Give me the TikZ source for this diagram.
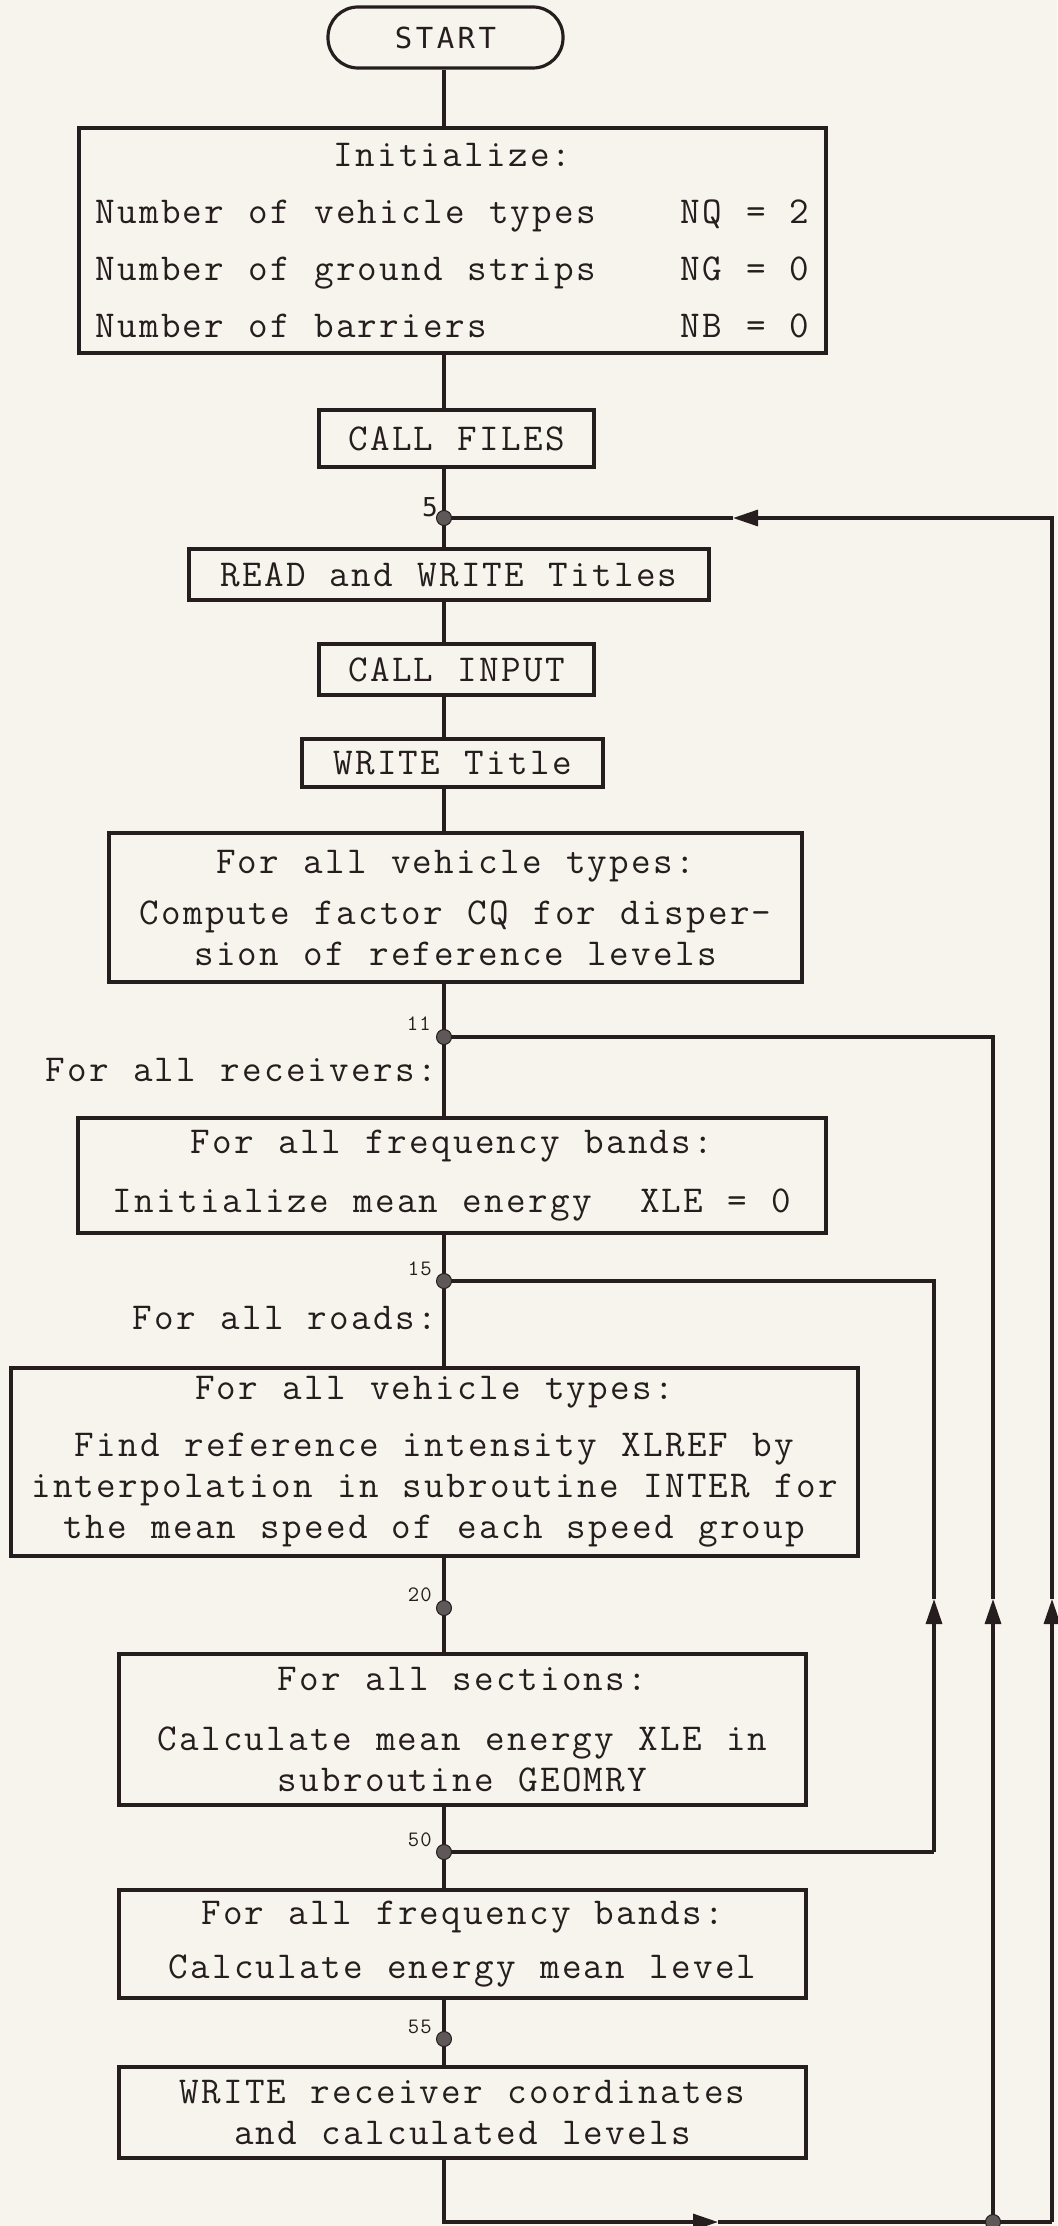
\documentclass[tikz,border=0pt]{standalone}
\usepackage{fontspec}
\newfontfamily\tw[LetterSpace=6,WordSpace=1.11]{Latin Modern Mono}
\newfontfamily\startfont[LetterSpace=12]{DejaVu Sans Mono}
\usetikzlibrary{arrows.meta}
\pgfdeclarelayer{paperlayer}
\pgfdeclarelayer{wires}
\pgfsetlayers{paperlayer,wires,main}
\definecolor{paper}{RGB}{247,243,237}
\definecolor{ink}{RGB}{38,30,30}
\definecolor{dotc}{RGB}{95,88,88}
\tikzset{
  box/.style={draw=ink, line width=3.2pt, rectangle, inner sep=0pt, align=center,
    text=ink, font=\tw\fontsize{38}{41}\selectfont},
  dotnode/.style={circle, fill=dotc, draw=ink, line width=1pt, inner sep=0pt, minimum size=15pt},
  lbl/.style={font=\tw\fontsize{22}{22}\selectfont\bfseries, text=ink, inner sep=0pt, anchor=south east},
  side/.style={font=\tw\fontsize{38}{41}\selectfont, text=ink, inner sep=0pt, anchor=east},
  wire/.style={draw=ink, line width=3.2pt},
  tri/.style={-{Triangle[length=25pt,width=16pt]}}
}
\begin{document}
\begin{tikzpicture}[x=1pt,y=-1pt]
\useasboundingbox (0,0) rectangle (1057,2226);
\begin{pgfonlayer}{paperlayer}
\fill[paper] (0,0) rectangle (1057,2226);
\end{pgfonlayer}

% boxes
\node[box, rounded corners=30pt, minimum width=235pt, minimum height=61pt,
  font=\startfont\fontsize{29}{29}\selectfont] (start) at (445.5,37.5) {START};
\node[box, minimum width=747pt, minimum height=225pt] (init) at (452.5,240.5)
  {Initialize:\\[16pt]
   \makebox[714pt]{Number of vehicle types\hfill NQ = 2}\\[16pt]
   \makebox[714pt]{Number of ground strips\hfill NG = 0}\\[16pt]
   \makebox[714pt]{Number of barriers\hfill NB = 0}};
\node[box, minimum width=275pt, minimum height=57pt] (files) at (456.5,438.5) {CALL FILES};
\node[box, minimum width=520pt, minimum height=51pt] (rw) at (449,574.5) {READ and WRITE Titles};
\node[box, minimum width=275pt, minimum height=51pt] (input) at (456.5,669.5) {CALL INPUT};
\node[box, minimum width=301pt, minimum height=48pt] (wtitle) at (452.5,763) {WRITE Title};
\node[box, minimum width=693pt, minimum height=149pt] (vt1) at (455.5,907.5)
  {For all vehicle types:\\[10pt]
   Compute factor CQ for disper-\\
   sion of reference levels};
\node[box, minimum width=748pt, minimum height=115pt] (fb1) at (452,1175.5)
  {For all frequency bands:\\[18pt]
   Initialize mean energy\ \ XLE = 0};
\node[box, minimum width=847pt, minimum height=188pt] (vt2) at (434.5,1462)
  {For all vehicle types:\\[16pt]
   Find reference intensity XLREF by\\
   interpolation in subroutine INTER for\\
   the mean speed of each speed group};
\node[box, minimum width=687pt, minimum height=151pt] (sec) at (462.5,1729.5)
  {For all sections:\\[19pt]
   Calculate mean energy XLE in\\
   subroutine GEOMRY};
\node[box, minimum width=687pt, minimum height=108pt] (fb2) at (462.5,1944)
  {For all frequency bands:\\[13pt]
   Calculate energy mean level};
\node[box, minimum width=687pt, minimum height=91pt] (wr) at (462.5,2112.5)
  {WRITE receiver coordinates\\
   and calculated levels};

% junction dots
\node[dotnode] (d5) at (444,518) {};
\node[dotnode] (d11) at (444,1037) {};
\node[dotnode] (d15) at (444,1281) {};
\node[dotnode] (d20) at (444,1608) {};
\node[dotnode] (d50) at (444,1852) {};
\node[dotnode] (d55) at (444,2039) {};
\node[dotnode] (db) at (993,2222) {};

% junction labels
\node[lbl, font=\startfont\fontsize{26}{26}\selectfont] (l5) at (438,517) {5};
\node[lbl] (l11) at (431,1031) {11};
\node[lbl] (l15) at (432,1276) {15};
\node[lbl] (l20) at (432,1602) {20};
\node[lbl] (l50) at (432,1847) {50};
\node[lbl] (l55) at (432,2034) {55};

% side texts
\node[side] (lrecv) at (437,1070) {For all receivers:};
\node[side] (lroads) at (437,1318) {For all roads:};

% coordinates for loops
\coordinate (bl) at (444,2222);
\coordinate (br) at (1052,2222);
\coordinate (r5) at (1052,518);
\coordinate (r11) at (993,1037);
\coordinate (r15) at (934,1281);
\coordinate (r50) at (934,1852);
\coordinate (a5) at (733,518);
\coordinate (abot) at (718,2222);
\coordinate (aup5) at (1052,1599);
\coordinate (aup11) at (993,1599);
\coordinate (aup15) at (934,1599);

\begin{pgfonlayer}{wires}
% main column
\draw[wire] (d5 |- start.south) -- (d5 |- init.north);
\draw[wire] (d5 |- init.south) -- (d5 |- files.north);
\draw[wire] (d5 |- files.south) -- (d5.center) -- (d5 |- rw.north);
\draw[wire] (d5 |- rw.south) -- (d5 |- input.north);
\draw[wire] (d5 |- input.south) -- (d5 |- wtitle.north);
\draw[wire] (d5 |- wtitle.south) -- (d5 |- vt1.north);
\draw[wire] (d5 |- vt1.south) -- (d11.center) -- (d5 |- fb1.north);
\draw[wire] (d5 |- fb1.south) -- (d15.center) -- (d5 |- vt2.north);
\draw[wire] (d5 |- vt2.south) -- (d20.center) -- (d5 |- sec.north);
\draw[wire] (d5 |- sec.south) -- (d50.center) -- (d5 |- fb2.north);
\draw[wire] (d5 |- fb2.south) -- (d55.center) -- (d5 |- wr.north);
% outer loop back to 5
\draw[wire, tri] (d5 |- wr.south) -- (bl) -- (abot);
\draw[wire] (abot) -- (db.center) -- (br);
\draw[wire, tri] (br) -- (aup5);
\draw[wire, tri] (aup5) -- (r5) -- (a5);
\draw[wire] (a5) -- (d5.center);
% loop back to 11
\draw[wire, tri] (db.center) -- (aup11);
\draw[wire] (aup11) -- (r11) -- (d11.center);
% loop back to 15
\draw[wire] (d50.center) -- (r50);
\draw[wire, tri] (r50) -- (aup15);
\draw[wire] (aup15) -- (r15) -- (d15.center);
\end{pgfonlayer}
\end{tikzpicture}
\end{document}
